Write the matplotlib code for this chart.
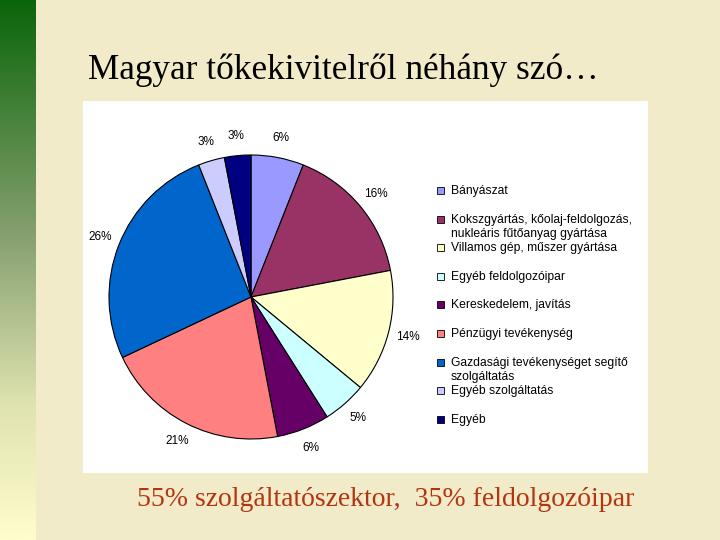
import matplotlib
matplotlib.use("Agg")
import matplotlib.pyplot as plt
import numpy as np
from matplotlib.colors import LinearSegmentedColormap
from matplotlib.patches import Rectangle

categories = [
    "Bányászat",
    "Kokszgyártás, kőolaj-feldolgozás,\nnukleáris fűtőanyag gyártása",
    "Villamos gép, műszer gyártása",
    "Egyéb feldolgozóipar",
    "Kereskedelem, javítás",
    "Pénzügyi tevékenység",
    "Gazdasági tevékenységet segítő\nszolgáltatás",
    "Egyéb szolgáltatás",
    "Egyéb",
]
values = [6, 16, 14, 5, 6, 21, 26, 3, 3]
colors = ["#9999ff", "#993366", "#ffffcc", "#ccffff", "#660066",
          "#ff8080", "#0066cc", "#ccccff", "#000080"]
title = "Magyar tőkekivitelről néhány szó…"
subtitle = "55% szolgáltatószektor,  35% feldolgozóipar"

W, H = 720, 540
fig = plt.figure(figsize=(7.2, 5.4), dpi=100)
fig.patch.set_facecolor("#f1ebc9")

# green gradient bar on the left
gax = fig.add_axes([0, 0, 36 / W, 1])
cmap = LinearSegmentedColormap.from_list(
    "g", [(0, "#0a650a"), (0.45, "#8aa272"), (0.75, "#dfe3b0"), (1, "#fffdcc")])
gax.imshow(np.linspace(0, 1, 256).reshape(-1, 1), aspect="auto", cmap=cmap,
           extent=[0, 1, 1, 0])
gax.axis("off")

# white chart panel
fig.patches.append(Rectangle((83 / W, 1 - 473 / H), (648 - 83) / W, (473 - 101) / H,
                             transform=fig.transFigure, facecolor="white",
                             edgecolor="none", zorder=-1))

fig.text(88 / W, 1 - 70 / H, title, family="Liberation Serif", fontsize=25.4,
         va="center", ha="left", color="black")
fig.text(386 / W, 1 - 500 / H, subtitle, family="Liberation Serif", fontsize=20,
         va="center", ha="center", color="#b3350f")

# pie
cx, cy, r = 251, 297, 142
ax = fig.add_axes([(cx - r) / W, 1 - (cy + r) / H, 2 * r / W, 2 * r / H])
ax.set_zorder(2)
wedges, texts, autotexts = ax.pie(
    values, colors=colors, startangle=90, counterclock=False,
    wedgeprops=dict(edgecolor="black", linewidth=0.8),
    autopct=lambda p: f"{p:.0f}%", pctdistance=1.14,
    textprops=dict(family="Liberation Sans", fontsize=8.5, color="black"))
ax.set_xlim(-1, 1)
ax.set_ylim(-1, 1)
ax.set_aspect("auto")
ax.axis("off")

# legend (manual, Excel style)
lx, ly0, step = 437, 186, 28.6
for i, (lab, col) in enumerate(zip(categories, colors)):
    y = ly0 + i * step
    fig.patches.append(Rectangle((lx / W, 1 - (y + 8) / H), 7 / W, 7 / H,
                                 transform=fig.transFigure, facecolor=col,
                                 edgecolor="black", linewidth=0.6, zorder=3))
    fig.text(451 / W, 1 - (y - 1) / H, lab, family="Liberation Sans", fontsize=8.7,
             va="top", ha="left", color="black", linespacing=1.25)

fig.savefig("out.png", dpi=100, facecolor=fig.get_facecolor())
